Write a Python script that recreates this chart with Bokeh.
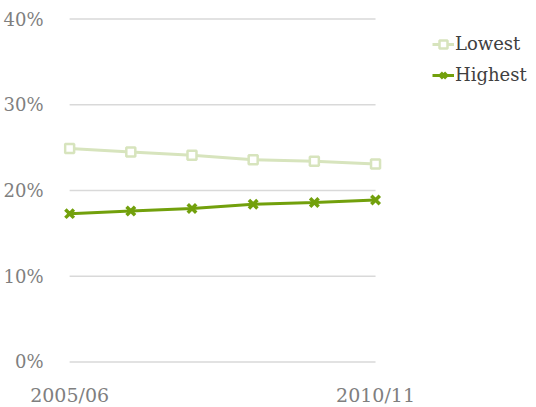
from bokeh.plotting import figure
from bokeh.models import (ColumnDataSource, FixedTicker, NumeralTickFormatter,
                          Legend, LegendItem, Range1d)
from bokeh.embed import file_html
from bokeh.resources import INLINE

categories = ["2005/06", "2006/07", "2007/08", "2008/09", "2009/10", "2010/11"]
lowest = [0.249, 0.245, 0.241, 0.236, 0.234, 0.231]
highest = [0.173, 0.176, 0.179, 0.184, 0.186, 0.189]
y_ticks = [0.0, 0.1, 0.2, 0.3, 0.4]
x_label_idx = [0, 5]

FONT = "DejaVu Serif"
LOW_C = "#d7e4bd"
HIGH_C = "#72a00c"

idx = list(range(len(categories)))
src = ColumnDataSource(dict(x=idx, low=lowest, high=highest))
last = len(categories) - 1
grid_src = ColumnDataSource(dict(x0=[0] * len(y_ticks), x1=[last] * len(y_ticks),
                                 y=y_ticks))

p = figure(frame_width=465, frame_height=348, output_backend="svg",
           toolbar_location=None,
           x_range=Range1d(-0.1, 7.5), y_range=Range1d(-0.003, 0.403),
           min_border_left=0, min_border_right=0, min_border_top=16,
           min_border_bottom=0)
p.outline_line_color = None
p.background_fill_color = "white"
p.border_fill_color = "white"

p.segment(x0="x0", x1="x1", y0="y", y1="y", source=grid_src,
          line_color="#d9d9d9", line_width=1.5)

l1 = p.line("x", "low", source=src, line_color=LOW_C, line_width=3)
s1 = p.scatter("x", "low", source=src, marker="square", size=9,
               fill_color="white", line_color=LOW_C, line_width=2.5)
l2 = p.line("x", "high", source=src, line_color=HIGH_C, line_width=3)
s2 = p.scatter("x", "high", source=src, marker="x", size=12,
               line_color=HIGH_C, line_width=3.5)

p.xaxis.ticker = FixedTicker(ticks=x_label_idx)
p.xaxis.major_label_overrides = {i: categories[i] for i in x_label_idx}
p.yaxis.ticker = FixedTicker(ticks=y_ticks)
p.yaxis.formatter = NumeralTickFormatter(format="0%")

for ax in (p.xaxis, p.yaxis):
    ax.axis_line_color = None
    ax.major_tick_line_color = None
    ax.minor_tick_line_color = None
    ax.major_label_text_font = FONT
    ax.major_label_text_color = "#7f7f7f"
p.xaxis.major_label_text_font_size = "19px"
p.yaxis.major_label_text_font_size = "18px"
p.xaxis.major_label_standoff = 13
p.yaxis.major_label_standoff = 14

p.xgrid.grid_line_color = None
p.ygrid.grid_line_color = None

legend = Legend(items=[LegendItem(label="Lowest", renderers=[l1, s1]),
                       LegendItem(label="Highest", renderers=[l2, s2])],
                location=(369, 279), border_line_color=None,
                background_fill_alpha=0, glyph_width=22, glyph_height=20,
                label_text_font=FONT, label_text_font_size="18px",
                label_text_color="#404040", spacing=10, padding=0,
                label_standoff=1, margin=0)
p.add_layout(legend, "center")

open("out.html", "w").write(file_html(p, INLINE))
